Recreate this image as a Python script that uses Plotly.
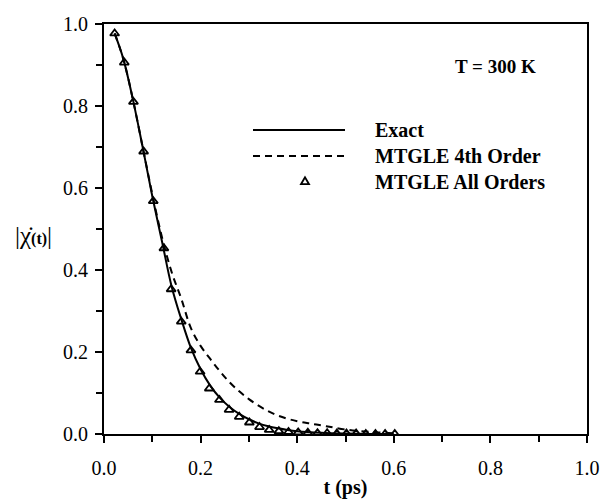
import plotly.graph_objects as go

# Exact curve
t_exact = [0.022, 0.04, 0.06, 0.08, 0.10, 0.12, 0.14, 0.16, 0.18, 0.20, 0.22, 0.24, 0.26,
           0.28, 0.30, 0.32, 0.34, 0.36, 0.38, 0.40, 0.45, 0.50, 0.55, 0.60]
y_exact = [0.977, 0.915, 0.815, 0.70, 0.58, 0.47, 0.36, 0.28, 0.21, 0.158, 0.118, 0.088, 0.066,
           0.049, 0.036, 0.026, 0.019, 0.014, 0.010, 0.007, 0.003, 0.001, 0.0, 0.0]

# MTGLE 4th order
t_4th = [0.022, 0.04, 0.06, 0.08, 0.10, 0.12, 0.14, 0.16, 0.18, 0.20, 0.22, 0.24, 0.26,
         0.28, 0.30, 0.33, 0.36, 0.40, 0.43, 0.46, 0.50, 0.55, 0.60]
y_4th = [0.977, 0.915, 0.815, 0.70, 0.585, 0.48, 0.395, 0.33, 0.258, 0.215, 0.183, 0.153, 0.126,
         0.104, 0.085, 0.062, 0.045, 0.031, 0.025, 0.019, 0.011, 0.005, 0.002]

# MTGLE all orders (markers)
t_all = [0.022, 0.042, 0.061, 0.082, 0.102, 0.124, 0.139, 0.160, 0.180, 0.199, 0.218, 0.239,
         0.259, 0.280, 0.301, 0.322, 0.342, 0.362, 0.382, 0.402, 0.422, 0.442, 0.462, 0.482,
         0.502, 0.522, 0.542, 0.562, 0.582, 0.602]
y_all = [0.977, 0.906, 0.81, 0.689, 0.568, 0.453, 0.353, 0.274, 0.204, 0.152, 0.111, 0.083,
         0.059, 0.042, 0.028, 0.017, 0.010, 0.007, 0.005, 0.004, 0.003, 0.002, 0.002, 0.001,
         0.001, 0.001, 0.0, 0.0, 0.0, 0.0]

x_ticks = [0.0, 0.2, 0.4, 0.6, 0.8, 1.0]
y_ticks = [0.0, 0.2, 0.4, 0.6, 0.8, 1.0]

legend_names = ["Exact", "MTGLE 4th Order", "MTGLE All Orders"]

FONT = "Liberation Serif"

fig = go.Figure()
fig.add_trace(go.Scatter(x=t_exact, y=y_exact, mode="lines", line=dict(color="black", width=2, shape="spline"),
                         name=legend_names[0], showlegend=False))
fig.add_trace(go.Scatter(x=t_4th, y=y_4th, mode="lines",
                         line=dict(color="black", width=2, dash="7px,5px", shape="spline"),
                         name=legend_names[1], showlegend=False))
fig.add_trace(go.Scatter(x=t_all, y=y_all, mode="markers",
                         marker=dict(symbol="triangle-up-open", size=8, color="black", line=dict(width=1.8)),
                         name=legend_names[2], showlegend=False))

W, H = 607, 502
L, R, T, B = 104, 20, 24, 68
pw, ph = W - L - R, H - T - B


def px(xp):
    return (xp - L) / pw


def py(yp):
    return (H - B - yp) / ph


# Legend (manual key)
tx, ty, ts = 305, 181, 4
tri_path = "M %f %f L %f %f L %f %f Z" % (px(tx - ts), py(ty + ts * 0.8), px(tx + ts), py(ty + ts * 0.8),
                                          px(tx), py(ty - ts * 0.9))
shapes = [
    dict(type="line", xref="paper", yref="paper", x0=px(253), x1=px(345), y0=py(130), y1=py(130),
         line=dict(color="black", width=2)),
    dict(type="line", xref="paper", yref="paper", x0=px(253), x1=px(345), y0=py(156), y1=py(156),
         line=dict(color="black", width=2, dash="7px,5px")),
    dict(type="path", xref="paper", yref="paper", path=tri_path, line=dict(color="black", width=1.8)),
]
annotations = []
for i, name in enumerate(legend_names):
    annotations.append(dict(xref="paper", yref="paper", x=px(373), y=py(130 + 26 * i), text="<b>%s</b>" % name,
                            showarrow=False, xanchor="left", yanchor="middle",
                            font=dict(family=FONT, size=20, color="black")))

annotations.append(dict(xref="paper", yref="paper", x=px(495), y=py(66), text="<b>T = 300 K</b>",
                        showarrow=False, xanchor="center", yanchor="middle",
                        font=dict(family=FONT, size=19, color="black")))
annotations.append(dict(xref="paper", yref="paper", x=px(33), y=py(235),
                        text="|χ̇<b><span style='font-size:16px'>(t)</span></b>|",
                        showarrow=False, xanchor="center", yanchor="middle",
                        font=dict(family=FONT, size=25, color="black")))

fig.update_layout(
    width=W, height=H,
    margin=dict(l=L, r=R, t=T, b=B),
    paper_bgcolor="white", plot_bgcolor="white",
    font=dict(family=FONT, size=20, color="black"),
    shapes=shapes, annotations=annotations,
    showlegend=False,
)
fig.update_xaxes(range=[0, 1.0], tickvals=x_ticks, ticktext=["%.1f" % v for v in x_ticks],
                 showgrid=False, zeroline=False, showline=True, linecolor="black", linewidth=2,
                 mirror=True, ticks="outside", ticklen=7, tickwidth=1.5, tickcolor="black",
                 minor=dict(ticks="outside", ticklen=6, tickwidth=1.5, dtick=0.1, tickcolor="black", showgrid=False),
                 ticklabelstandoff=8, tickfont=dict(size=20), automargin=False,
                 title=dict(text="<b>t (ps)</b>", font=dict(family=FONT, size=20), standoff=2))
fig.update_yaxes(range=[0, 1.0], tickvals=y_ticks, ticktext=["%.1f" % v for v in y_ticks],
                 showgrid=False, zeroline=False, showline=True, linecolor="black", linewidth=2,
                 mirror=True, ticks="outside", ticklen=7, tickwidth=1.5, tickcolor="black",
                 minor=dict(ticks="outside", ticklen=6, tickwidth=1.5, dtick=0.1, tickcolor="black", showgrid=False),
                 ticklabelstandoff=3, tickfont=dict(size=20), automargin=False)

fig.write_html("out.html")
